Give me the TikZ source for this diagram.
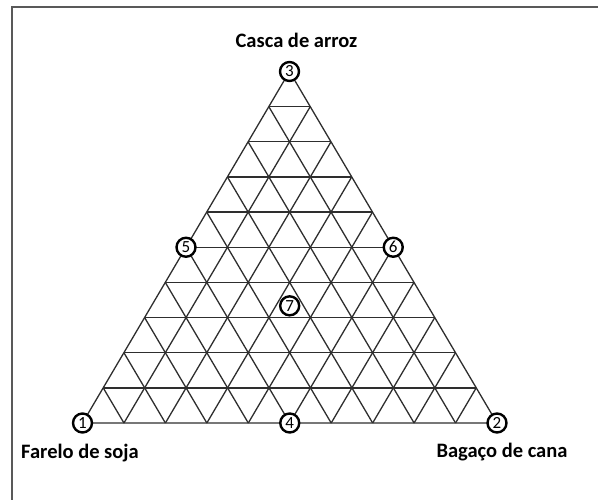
\documentclass[tikz,border=0pt]{standalone}
\usepackage{fontspec}
\setmainfont{Carlito}
\usetikzlibrary{positioning}
\usetikzlibrary{calc}
\tikzset{
    grid/.style={
    line width=1.3pt,
    draw=black!82
    },
    pt/.style={
    circle, draw, line width=2.4pt, fill=white,
    minimum size=19pt, inner sep=0pt,
    font=\fontsize{17}{17}\selectfont
    },
    lbl/.style={
    font=\fontsize{20.5}{20.5}\selectfont\bfseries,
    inner sep=0pt
    }
}

\begin{document}
\begin{tikzpicture}[x=1pt,y=-1pt]
\useasboundingbox (0,0) rectangle (598,500);
\draw[line width=1.8pt, draw=black!65] (12,500) -- (12,7) -- (598,7);

\coordinate (v1) at (82.5,423);
\coordinate (v2) at (497,423);
\coordinate (v3) at (289.5,71.5);

% grid lines, 10 steps each way
\foreach \k in {1,...,9} {
\draw[grid] ($(v1)!\k/10!(v3)$) -- ($(v2)!\k/10!(v3)$);
\draw[grid] ($(v1)!\k/10!(v2)$) -- ($(v3)!\k/10!(v2)$);
\draw[grid] ($(v2)!\k/10!(v1)$) -- ($(v3)!\k/10!(v1)$);
}
\draw[grid] (v1) -- (v2) -- (v3) -- cycle;

\node[pt](c1) at (v1) {1};
\node[pt](c2) at (v2) {2};
\node[pt](c3) at (v3) {3};
\node[pt](c4) at ($(v1)!0.5!(v2)$) {4};
\node[pt](c5) at ($(v1)!0.5!(v3)$) {5};
\node[pt](c6) at ($(v2)!0.5!(v3)$) {6};
\node[pt](c7) at ($(c4.center)!1/3!(v3)$) {7};

\node[lbl, above=12.5pt of c3, xshift=7pt](arroz) {Casca de arroz};
\node[lbl, below=10pt of c1, xshift=-2.5pt](soja) {Farelo de soja};
\node[lbl, below=9pt of c2, xshift=5pt](cana) {Bagaço de cana};

\end{tikzpicture}
\end{document}
